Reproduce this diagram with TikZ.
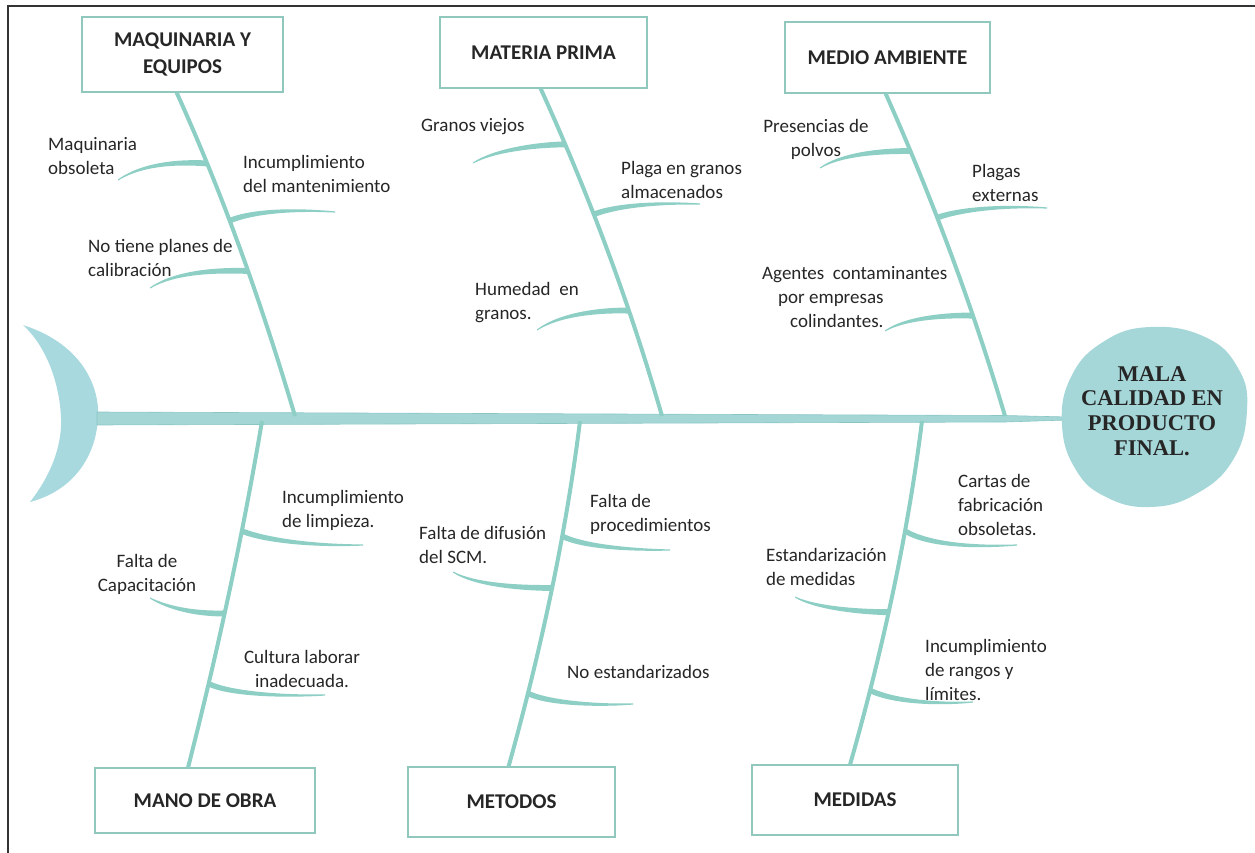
\documentclass[tikz,border=0pt]{standalone}
\usepackage{fontspec}
\setmainfont{Carlito}
\newfontfamily\headfont{Liberation Serif}
\usetikzlibrary{calc}
\definecolor{bonec}{HTML}{8DCFC4}
\definecolor{boxc}{HTML}{90C8BE}
\definecolor{spinec}{HTML}{A4D6D6}
\definecolor{spineedge}{HTML}{8AC6C4}
\definecolor{headc}{HTML}{A5D7D9}
\definecolor{tailc}{HTML}{A8D9DE}
\definecolor{textc}{HTML}{262626}
\definecolor{framec}{HTML}{333333}
\newcommand{\ribpath}[4]{\fill[bonec] ($(#1)+(0,-3)$) .. controls ($(#2)+(0,-2.6)$) and ($(#3)+(0,-1.8)$) .. ($(#4)+(0,-0.6)$) -- ($(#4)+(0,0.6)$) .. controls ($(#3)+(0,1.8)$) and ($(#2)+(0,2.6)$) .. ($(#1)+(0,3)$) -- cycle;}
\begin{document}
\begin{tikzpicture}[x=1pt,y=-1pt,
  catbox/.style={draw=boxc, line width=2.5pt, fill=white, inner sep=0pt, align=center, text=textc, font=\fontsize{21}{27}\selectfont\bfseries},
  txt/.style={font=\fontsize{19}{24}\selectfont, text=textc, align=left, inner sep=0pt, anchor=west},
  ctxt/.style={font=\fontsize{19}{24}\selectfont, text=textc, align=center, inner sep=0pt},
  bone/.style={draw=bonec, line width=4pt},
  headtxt/.style={font=\headfont\bfseries\fontsize{22.5}{24.8}\selectfont, text=black!85, align=center, inner sep=0pt}]
\useasboundingbox (0,0) rectangle (1255,853);
% frame
\draw[framec, line width=1.5pt] (8,853) -- (8,6) -- (1255,6);
% tail
\fill[tailc] (23,325) .. controls (85,345) and (100,390) .. (98,418) .. controls (96,455) and (75,490) .. (30,502) .. controls (55,470) and (62,440) .. (61,418) .. controls (60,390) and (50,350) .. (23,325) -- cycle;
% spine
\fill[spinec, draw=spineedge, line width=0.6pt] (97,412) -- (1005,415.5) -- (1068,417) -- (1068,420) -- (1005,422) -- (97,425) -- cycle;
% head
\fill[headc] plot[smooth cycle, tension=0.75] coordinates {(1150,327) (1205,337) (1238,368) (1247,410) (1233,460) (1196,494) (1150,507) (1106,497) (1076,470) (1062,425) (1071,377) (1103,342)};
\node[headtxt] (head) at (1152,411) {MALA\\CALIDAD EN\\PRODUCTO\\FINAL.};
% category boxes
\node[catbox, minimum width=201pt, minimum height=75pt] (mq) at (182.5,54.5) {MAQUINARIA Y\\EQUIPOS};
\node[catbox, minimum width=207pt, minimum height=71pt] (mp) at (543.5,52.5) {MATERIA PRIMA};
\node[catbox, minimum width=205pt, minimum height=71pt] (ma) at (887.5,57.5) {MEDIO AMBIENTE};
\node[catbox, minimum width=220pt, minimum height=65pt] (mo) at (205,800.5) {MANO DE OBRA};
\node[catbox, minimum width=207pt, minimum height=70pt] (me) at (511.5,802) {METODOS};
\node[catbox, minimum width=206pt, minimum height=70pt] (md) at (855,800) {MEDIDAS};
% spine junctions
\coordinate (s1) at (295,416);
\coordinate (s2) at (662,416);
\coordinate (s3) at (1005,416);
\coordinate (s4) at (262,421);
\coordinate (s5) at (580,421);
\coordinate (s6) at (922,421);
% main bones
\draw[bone] ([xshift=-6pt,yshift=1pt]mq.south) .. controls (224,197) and (262,305) .. (s1)
  coordinate[pos=0.225] (r11) coordinate[pos=0.404] (r12) coordinate[pos=0.559] (r13);
\draw[bone] ([xshift=-3pt,yshift=1pt]mp.south) .. controls (590,197) and (630,305) .. (s2)
  coordinate[pos=0.172] (r21) coordinate[pos=0.387] (r22) coordinate[pos=0.681] (r23);
\draw[bone] ([xshift=-2pt,yshift=1pt]ma.south) .. controls (933,200) and (973,308) .. (s3)
  coordinate[pos=0.18] (r31) coordinate[pos=0.387] (r32) coordinate[pos=0.69] (r33);
\draw[bone] (s4) .. controls (243,534) and (218,650) .. ([xshift=-17pt,yshift=-1pt]mo.north)
  coordinate[pos=0.322] (r41) coordinate[pos=0.56] (r42) coordinate[pos=0.761] (r43);
\draw[bone] (s5) .. controls (566,534) and (541,650) .. ([xshift=-3pt,yshift=-1pt]me.north)
  coordinate[pos=0.337] (r51) coordinate[pos=0.487] (r52) coordinate[pos=0.79] (r53);
\draw[bone] (s6) .. controls (908,533) and (883,649) .. ([xshift=-5pt,yshift=-1pt]md.north)
  coordinate[pos=0.324] (r61) coordinate[pos=0.56] (r62) coordinate[pos=0.786] (r63);
% ribs
\ribpath{r11}{185,162}{145,162}{118,180}
\ribpath{r12}{245,214}{280,208}{335,212}
\ribpath{r13}{215,270}{175,272}{150,288}
\ribpath{r21}{535,145}{495,150}{473,163}
\ribpath{r22}{612,207}{650,202}{700,204}
\ribpath{r23}{600,310}{560,314}{537,330}
\ribpath{r31}{875,151}{840,155}{820,168}
\ribpath{r32}{955,211}{995,205}{1047,208}
\ribpath{r33}{945,315}{905,318}{885,331}
\ribpath{r41}{265,540}{310,546}{363,545}
\ribpath{r42}{195,614}{168,608}{150,598}
\ribpath{r43}{225,692}{270,697}{325,695}
\ribpath{r51}{580,545}{620,550}{670,550}
\ribpath{r52}{520,588}{475,585}{453,572}
\ribpath{r53}{545,702}{590,706}{633,704}
\ribpath{r61}{925,543}{965,548}{1017,545}
\ribpath{r62}{860,612}{815,608}{795,597}
\ribpath{r63}{890,700}{930,705}{973,702}
% cause texts
\node[txt] (t11) at (48,156) {Maquinaria\\obsoleta};
\node[txt] (t12) at (243,174) {Incumplimiento\\del mantenimiento};
\node[txt] (t13) at (88,258) {No tiene planes de\\calibración};
\node[txt] (t21) at (421,127) {Granos viejos};
\node[txt] (t22) at (621,180) {Plaga en granos\\almacenados};
\node[txt] (t23) at (475,303) {Humedad\ \ en\\granos.};
\node[ctxt] (t31) at (816,139) {Presencias de\\polvos};
\node[txt] (t32) at (972,183) {Plagas\\externas};
\node[txt] (t33) at (762,297) {Agentes\ \ contaminantes\\\hspace*{16pt}por empresas\\\hspace*{28pt}colindantes.};
\node[txt] (t41) at (282,510) {Incumplimiento\\de limpieza.};
\node[ctxt] (t42) at (147,574) {Falta de\\Capacitación};
\node[ctxt] (t43) at (302,669) {Cultura laborar\\inadecuada.};
\node[txt] (t51) at (590,514) {Falta de\\procedimientos};
\node[txt] (t52) at (419,545) {Falta de difusión\\del SCM.};
\node[txt] (t53) at (567,672) {No estandarizados};
\node[txt] (t61) at (958,505) {Cartas de\\fabricación\\obsoletas.};
\node[txt] (t62) at (766,567) {Estandarización\\de medidas};
\node[txt] (t63) at (925,670) {Incumplimiento\\de rangos y\\límites.};
\end{tikzpicture}
\end{document}
